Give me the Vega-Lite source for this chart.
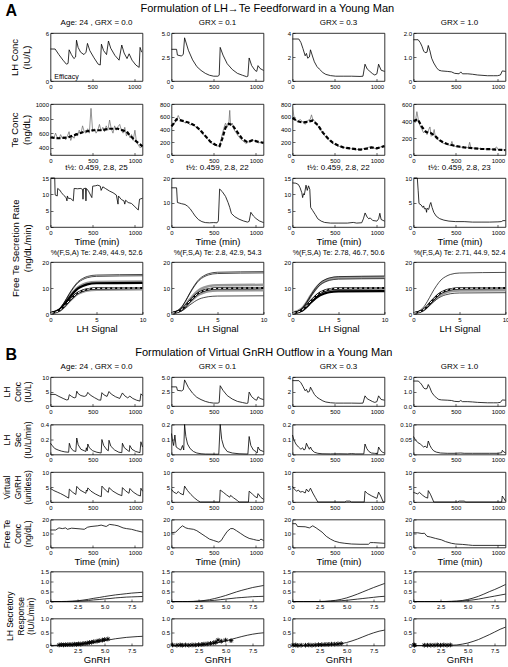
{
"$schema":"https://vega.github.io/schema/vega-lite/v6.json",
"padding":{"left":1.5,"right":0,"top":2,"bottom":0},
"config":{
 "font":"Liberation Sans",
 "view":{"stroke":"black","strokeWidth":0.8},
 "axis":{"domain":false,"grid":false,"ticks":true,"tickSize":-2.5,"tickColor":"black","tickWidth":0.6,"labelPadding":4.5,"labelFontSize":6,"labelColor":"black","labelFlush":false,"labelOverlap":false,"titleFontWeight":"normal","titleColor":"black","titleFontSize":9.5},
 "axisX":{"titleFontSize":9.5,"titlePadding":1},
 "title":{"fontSize":8,"fontWeight":"normal","offset":3,"color":"black"},
 "line":{"color":"black","strokeWidth":0.8}
},
"datasets":{
"a11":[{"t":0,"v":4},{"t":55,"v":4},{"t":100,"v":3.3},{"t":150,"v":2.6},{"t":190,"v":2.1},{"t":210,"v":2.2},{"t":223,"v":3.9},{"t":250,"v":3.3},{"t":280,"v":2.8},{"t":300,"v":3},{"t":311,"v":5.1},{"t":330,"v":4.2},{"t":360,"v":3.6},{"t":400,"v":3.3},{"t":425,"v":3.6},{"t":442,"v":4.7},{"t":470,"v":3.8},{"t":520,"v":2.9},{"t":570,"v":2.1},{"t":595,"v":2},{"t":609,"v":4.6},{"t":635,"v":3.8},{"t":670,"v":3.3},{"t":693,"v":5},{"t":720,"v":4.1},{"t":770,"v":3.2},{"t":820,"v":2.6},{"t":852,"v":4.5},{"t":880,"v":3.5},{"t":915,"v":2.8},{"t":940,"v":3.4},{"t":975,"v":2.6},{"t":1020,"v":2},{"t":1060,"v":1.7},{"t":1071,"v":4.2},{"t":1090,"v":3.6}],
"a12":[{"t":0,"v":3.3},{"t":60,"v":3.3},{"t":70,"v":2.7},{"t":120,"v":2.6},{"t":140,"v":2.8},{"t":155,"v":4.5},{"t":200,"v":3.2},{"t":250,"v":2.2},{"t":300,"v":1.5},{"t":350,"v":1.1},{"t":400,"v":0.8},{"t":450,"v":0.6},{"t":500,"v":0.5},{"t":550,"v":0.5},{"t":565,"v":0.6},{"t":577,"v":3.5},{"t":610,"v":2.7},{"t":660,"v":1.8},{"t":720,"v":1.2},{"t":780,"v":0.8},{"t":840,"v":0.6},{"t":890,"v":0.45},{"t":905,"v":0.5},{"t":920,"v":2.4},{"t":950,"v":1.6},{"t":990,"v":1.1},{"t":1010,"v":1},{"t":1025,"v":1.6},{"t":1050,"v":1.3},{"t":1090,"v":1.1}],
"a13":[{"t":0,"v":3.5},{"t":75,"v":3.5},{"t":100,"v":3.2},{"t":124,"v":2.7},{"t":150,"v":2.1},{"t":165,"v":2.3},{"t":180,"v":1.9},{"t":200,"v":2},{"t":213,"v":2.6},{"t":240,"v":2},{"t":259,"v":1.6},{"t":290,"v":1.2},{"t":317,"v":1},{"t":360,"v":0.7},{"t":395,"v":0.55},{"t":450,"v":0.45},{"t":511,"v":0.4},{"t":600,"v":0.4},{"t":700,"v":0.4},{"t":800,"v":0.38},{"t":835,"v":0.4},{"t":859,"v":1.4},{"t":885,"v":1},{"t":917,"v":0.8},{"t":950,"v":0.6},{"t":975,"v":0.5},{"t":1000,"v":0.6},{"t":1020,"v":1.4},{"t":1050,"v":0.9},{"t":1090,"v":0.8}],
"a14":[{"t":0,"v":1.72},{"t":55,"v":1.72},{"t":80,"v":1.6},{"t":100,"v":1.45},{"t":120,"v":1.25},{"t":137,"v":1.18},{"t":160,"v":1.2},{"t":175,"v":1.48},{"t":195,"v":1.25},{"t":215,"v":0.95},{"t":240,"v":0.75},{"t":274,"v":0.55},{"t":300,"v":0.45},{"t":332,"v":0.42},{"t":400,"v":0.4},{"t":450,"v":0.38},{"t":487,"v":0.32},{"t":540,"v":0.3},{"t":560,"v":0.38},{"t":580,"v":0.3},{"t":643,"v":0.3},{"t":700,"v":0.28},{"t":760,"v":0.25},{"t":800,"v":0.24},{"t":877,"v":0.22},{"t":950,"v":0.22},{"t":993,"v":0.22},{"t":1030,"v":0.25},{"t":1052,"v":0.42},{"t":1090,"v":0.4}],
"a21n":[{"t":0,"v":530},{"t":20,"v":560},{"t":40,"v":530},{"t":60,"v":600},{"t":80,"v":540},{"t":100,"v":520},{"t":120,"v":580},{"t":140,"v":530},{"t":160,"v":550},{"t":180,"v":510},{"t":200,"v":560},{"t":220,"v":620},{"t":240,"v":500},{"t":260,"v":560},{"t":280,"v":530},{"t":300,"v":600},{"t":320,"v":560},{"t":340,"v":640},{"t":360,"v":590},{"t":380,"v":700},{"t":400,"v":620},{"t":420,"v":600},{"t":440,"v":660},{"t":460,"v":600},{"t":480,"v":940},{"t":500,"v":620},{"t":520,"v":660},{"t":540,"v":600},{"t":560,"v":640},{"t":580,"v":720},{"t":600,"v":630},{"t":620,"v":680},{"t":640,"v":620},{"t":660,"v":700},{"t":680,"v":640},{"t":700,"v":780},{"t":720,"v":660},{"t":740,"v":600},{"t":760,"v":700},{"t":780,"v":640},{"t":800,"v":690},{"t":820,"v":720},{"t":840,"v":640},{"t":860,"v":600},{"t":880,"v":680},{"t":900,"v":560},{"t":920,"v":620},{"t":940,"v":540},{"t":960,"v":580},{"t":980,"v":500},{"t":1000,"v":640},{"t":1020,"v":470},{"t":1040,"v":440},{"t":1060,"v":400},{"t":1090,"v":420}],
"a21s":[{"t":0,"v":540},{"t":100,"v":530},{"t":200,"v":540},{"t":300,"v":580},{"t":400,"v":620},{"t":500,"v":640},{"t":600,"v":640},{"t":700,"v":660},{"t":800,"v":660},{"t":900,"v":620},{"t":1000,"v":500},{"t":1090,"v":420}],
"a22n":[{"t":0,"v":440},{"t":30,"v":480},{"t":60,"v":560},{"t":80,"v":620},{"t":100,"v":560},{"t":130,"v":540},{"t":160,"v":500},{"t":190,"v":520},{"t":220,"v":470},{"t":250,"v":490},{"t":280,"v":450},{"t":310,"v":420},{"t":340,"v":380},{"t":370,"v":330},{"t":400,"v":290},{"t":430,"v":250},{"t":460,"v":200},{"t":490,"v":170},{"t":520,"v":150},{"t":550,"v":140},{"t":575,"v":160},{"t":600,"v":320},{"t":620,"v":420},{"t":640,"v":500},{"t":660,"v":440},{"t":680,"v":520},{"t":690,"v":700},{"t":700,"v":460},{"t":720,"v":500},{"t":740,"v":400},{"t":760,"v":360},{"t":790,"v":300},{"t":820,"v":250},{"t":850,"v":220},{"t":880,"v":180},{"t":910,"v":200},{"t":940,"v":240},{"t":970,"v":230},{"t":1000,"v":220},{"t":1030,"v":190},{"t":1060,"v":200},{"t":1090,"v":190}],
"a22s":[{"t":0,"v":450},{"t":60,"v":560},{"t":120,"v":540},{"t":200,"v":510},{"t":280,"v":460},{"t":340,"v":390},{"t":400,"v":300},{"t":460,"v":210},{"t":520,"v":160},{"t":570,"v":140},{"t":600,"v":250},{"t":640,"v":430},{"t":680,"v":490},{"t":720,"v":470},{"t":780,"v":360},{"t":840,"v":250},{"t":900,"v":200},{"t":960,"v":230},{"t":1020,"v":210},{"t":1090,"v":190}],
"a23n":[{"t":0,"v":760},{"t":15,"v":620},{"t":30,"v":560},{"t":60,"v":520},{"t":90,"v":560},{"t":120,"v":520},{"t":150,"v":480},{"t":180,"v":540},{"t":210,"v":560},{"t":225,"v":630},{"t":240,"v":560},{"t":270,"v":520},{"t":300,"v":460},{"t":330,"v":400},{"t":360,"v":340},{"t":390,"v":290},{"t":420,"v":250},{"t":450,"v":210},{"t":480,"v":180},{"t":510,"v":160},{"t":540,"v":140},{"t":570,"v":130},{"t":600,"v":120},{"t":630,"v":110},{"t":660,"v":100},{"t":690,"v":100},{"t":720,"v":90},{"t":750,"v":80},{"t":780,"v":90},{"t":810,"v":80},{"t":840,"v":100},{"t":870,"v":110},{"t":900,"v":120},{"t":930,"v":130},{"t":960,"v":110},{"t":990,"v":100},{"t":1020,"v":110},{"t":1050,"v":130},{"t":1090,"v":150}],
"a23s":[{"t":0,"v":580},{"t":60,"v":530},{"t":120,"v":510},{"t":180,"v":520},{"t":240,"v":540},{"t":300,"v":470},{"t":360,"v":350},{"t":420,"v":260},{"t":480,"v":190},{"t":540,"v":150},{"t":600,"v":120},{"t":700,"v":100},{"t":800,"v":85},{"t":880,"v":100},{"t":940,"v":120},{"t":1000,"v":105},{"t":1090,"v":140}],
"a24n":[{"t":0,"v":400},{"t":20,"v":380},{"t":40,"v":510},{"t":60,"v":400},{"t":80,"v":340},{"t":100,"v":300},{"t":120,"v":260},{"t":140,"v":280},{"t":160,"v":240},{"t":180,"v":300},{"t":195,"v":330},{"t":210,"v":220},{"t":230,"v":240},{"t":245,"v":300},{"t":260,"v":200},{"t":290,"v":180},{"t":320,"v":160},{"t":350,"v":140},{"t":380,"v":130},{"t":410,"v":120},{"t":440,"v":110},{"t":455,"v":160},{"t":470,"v":110},{"t":500,"v":100},{"t":540,"v":95},{"t":580,"v":90},{"t":620,"v":90},{"t":650,"v":85},{"t":665,"v":150},{"t":680,"v":85},{"t":720,"v":80},{"t":760,"v":75},{"t":800,"v":75},{"t":850,"v":70},{"t":900,"v":70},{"t":950,"v":65},{"t":985,"v":95},{"t":1000,"v":65},{"t":1040,"v":60},{"t":1090,"v":60}],
"a24s":[{"t":0,"v":400},{"t":50,"v":420},{"t":100,"v":330},{"t":150,"v":270},{"t":200,"v":260},{"t":250,"v":230},{"t":300,"v":180},{"t":350,"v":150},{"t":400,"v":130},{"t":500,"v":105},{"t":600,"v":90},{"t":700,"v":80},{"t":800,"v":72},{"t":900,"v":68},{"t":1000,"v":62},{"t":1090,"v":58}],
"a31":[{"t":0,"v":15},{"t":50,"v":15},{"t":55,"v":9.8},{"t":80,"v":9.5},{"t":85,"v":11.8},{"t":110,"v":11.3},{"t":130,"v":10.5},{"t":160,"v":9.6},{"t":185,"v":9},{"t":195,"v":8},{"t":200,"v":9.5},{"t":210,"v":8.8},{"t":240,"v":8.7},{"t":270,"v":8},{"t":280,"v":11.8},{"t":320,"v":11.7},{"t":360,"v":11.8},{"t":380,"v":11.5},{"t":385,"v":8.5},{"t":390,"v":11.7},{"t":415,"v":11.9},{"t":420,"v":8},{"t":425,"v":11.8},{"t":450,"v":11},{"t":480,"v":9.5},{"t":490,"v":9},{"t":500,"v":12.5},{"t":530,"v":12.6},{"t":560,"v":12.8},{"t":590,"v":12.5},{"t":600,"v":11.2},{"t":620,"v":12.3},{"t":650,"v":11.8},{"t":700,"v":11},{"t":740,"v":10.5},{"t":780,"v":9.8},{"t":800,"v":7},{"t":805,"v":9.5},{"t":840,"v":8.4},{"t":870,"v":8},{"t":880,"v":7},{"t":890,"v":8.2},{"t":920,"v":7.5},{"t":960,"v":7.2},{"t":1000,"v":6.2},{"t":1040,"v":5.2},{"t":1055,"v":8.5},{"t":1090,"v":8.8}],
"a32":[{"t":0,"v":16},{"t":60,"v":16},{"t":70,"v":10},{"t":90,"v":9.8},{"t":120,"v":9.5},{"t":160,"v":9.2},{"t":190,"v":8.5},{"t":220,"v":7.5},{"t":250,"v":6},{"t":280,"v":4.5},{"t":320,"v":3},{"t":360,"v":2.2},{"t":400,"v":1.8},{"t":450,"v":1.7},{"t":500,"v":1.8},{"t":540,"v":1.7},{"t":555,"v":2.5},{"t":570,"v":15.5},{"t":600,"v":14.5},{"t":640,"v":12.5},{"t":670,"v":10},{"t":690,"v":8},{"t":710,"v":5.5},{"t":750,"v":4.2},{"t":800,"v":3.2},{"t":850,"v":2.5},{"t":900,"v":2},{"t":920,"v":2.3},{"t":940,"v":6},{"t":970,"v":4.5},{"t":1000,"v":3.5},{"t":1040,"v":2.5},{"t":1090,"v":1.8}],
"a33":[{"t":0,"v":13.5},{"t":40,"v":13.4},{"t":70,"v":13},{"t":90,"v":12},{"t":110,"v":10.5},{"t":120,"v":9},{"t":130,"v":10.2},{"t":140,"v":9.8},{"t":160,"v":12.8},{"t":175,"v":11.2},{"t":190,"v":12.6},{"t":205,"v":11.5},{"t":215,"v":6},{"t":240,"v":5},{"t":270,"v":3.8},{"t":300,"v":2.5},{"t":340,"v":1.8},{"t":380,"v":1.4},{"t":450,"v":1.2},{"t":550,"v":1.2},{"t":650,"v":1.2},{"t":720,"v":1.4},{"t":760,"v":1.2},{"t":820,"v":1.3},{"t":840,"v":2.5},{"t":860,"v":4.3},{"t":885,"v":3},{"t":905,"v":2.5},{"t":920,"v":2.8},{"t":950,"v":2},{"t":1000,"v":1.8},{"t":1020,"v":2.5},{"t":1035,"v":4.2},{"t":1050,"v":2.3},{"t":1090,"v":1.8}],
"a34":[{"t":0,"v":10},{"t":45,"v":10},{"t":55,"v":7.5},{"t":65,"v":4.8},{"t":90,"v":4.5},{"t":110,"v":4},{"t":120,"v":4.3},{"t":130,"v":3.7},{"t":145,"v":3.8},{"t":155,"v":3},{"t":160,"v":3.8},{"t":180,"v":3.6},{"t":195,"v":4.6},{"t":205,"v":5},{"t":220,"v":4},{"t":240,"v":3},{"t":270,"v":2.2},{"t":310,"v":1.7},{"t":360,"v":1.4},{"t":420,"v":1.2},{"t":500,"v":1.1},{"t":600,"v":1.1},{"t":700,"v":1},{"t":800,"v":1},{"t":900,"v":1},{"t":1000,"v":1.05},{"t":1040,"v":1.1},{"t":1060,"v":1.3},{"t":1090,"v":1.3}],
"a41":[{"x":0,"thin_a":0.46,"thin_b":0.44,"band_a":0.38,"bold_a":0.36,"bold_b":0.3,"mean":0.3,"band_b":0.29},{"x":1,"thin_a":2.13,"thin_b":2.06,"band_a":1.75,"bold_a":1.68,"bold_b":1.4,"mean":1.4,"band_b":1.33},{"x":1.5,"thin_a":4.56,"thin_b":4.41,"band_a":3.75,"bold_a":3.6,"bold_b":3,"mean":3,"band_b":2.85},{"x":2,"thin_a":7.6,"thin_b":7.35,"band_a":6.25,"bold_a":6,"bold_b":5,"mean":5,"band_b":4.75},{"x":2.5,"thin_a":10.34,"thin_b":10,"band_a":8.5,"bold_a":8.16,"bold_b":6.8,"mean":6.8,"band_b":6.46},{"x":3,"thin_a":12.46,"thin_b":12.05,"band_a":10.25,"bold_a":9.84,"bold_b":8.2,"mean":8.2,"band_b":7.79},{"x":3.5,"thin_a":13.68,"thin_b":13.23,"band_a":11.25,"bold_a":10.8,"bold_b":9,"mean":9,"band_b":8.55},{"x":4,"thin_a":14.44,"thin_b":13.97,"band_a":11.88,"bold_a":11.4,"bold_b":9.5,"mean":9.5,"band_b":9.03},{"x":5,"thin_a":14.97,"thin_b":14.48,"band_a":12.31,"bold_a":11.82,"bold_b":9.85,"mean":9.85,"band_b":9.36},{"x":10,"thin_a":15.2,"thin_b":14.7,"band_a":12.5,"bold_a":12,"bold_b":10,"mean":10,"band_b":9.5}],
"a42":[{"x":0,"thin_a":0.49,"thin_b":0.47,"band_a":0.34,"bold_a":0.3,"mean":0.3,"band_b":0.28,"thin_c":0.21},{"x":1,"thin_a":2.28,"thin_b":2.21,"band_a":1.57,"bold_a":1.4,"mean":1.4,"band_b":1.29,"thin_c":0.98},{"x":1.5,"thin_a":4.89,"thin_b":4.74,"band_a":3.36,"bold_a":3,"mean":3,"band_b":2.76,"thin_c":2.1},{"x":2,"thin_a":8.15,"thin_b":7.9,"band_a":5.6,"bold_a":5,"mean":5,"band_b":4.6,"thin_c":3.5},{"x":2.5,"thin_a":11.08,"thin_b":10.74,"band_a":7.62,"bold_a":6.8,"mean":6.8,"band_b":6.26,"thin_c":4.76},{"x":3,"thin_a":13.37,"thin_b":12.96,"band_a":9.18,"bold_a":8.2,"mean":8.2,"band_b":7.54,"thin_c":5.74},{"x":3.5,"thin_a":14.67,"thin_b":14.22,"band_a":10.08,"bold_a":9,"mean":9,"band_b":8.28,"thin_c":6.3},{"x":4,"thin_a":15.49,"thin_b":15.01,"band_a":10.64,"bold_a":9.5,"mean":9.5,"band_b":8.74,"thin_c":6.65},{"x":5,"thin_a":16.06,"thin_b":15.56,"band_a":11.03,"bold_a":9.85,"mean":9.85,"band_b":9.06,"thin_c":6.9},{"x":10,"thin_a":16.3,"thin_b":15.8,"band_a":11.2,"bold_a":10,"mean":10,"band_b":9.2,"thin_c":7}],
"a43":[{"x":0,"thin_a":0.44,"band_a":0.43,"thin_b":0.41,"bold_a":0.3,"mean":0.3,"band_b":0.28,"bold_b":0.26},{"x":1,"thin_a":2.04,"band_a":1.99,"thin_b":1.9,"bold_a":1.4,"mean":1.4,"band_b":1.32,"bold_b":1.23},{"x":1.5,"thin_a":4.38,"band_a":4.26,"thin_b":4.08,"bold_a":3,"mean":3,"band_b":2.82,"bold_b":2.64},{"x":2,"thin_a":7.3,"band_a":7.1,"thin_b":6.8,"bold_a":5,"mean":5,"band_b":4.7,"bold_b":4.4},{"x":2.5,"thin_a":9.93,"band_a":9.66,"thin_b":9.25,"bold_a":6.8,"mean":6.8,"band_b":6.39,"bold_b":5.98},{"x":3,"thin_a":11.97,"band_a":11.64,"thin_b":11.15,"bold_a":8.2,"mean":8.2,"band_b":7.71,"bold_b":7.22},{"x":3.5,"thin_a":13.14,"band_a":12.78,"thin_b":12.24,"bold_a":9,"mean":9,"band_b":8.46,"bold_b":7.92},{"x":4,"thin_a":13.87,"band_a":13.49,"thin_b":12.92,"bold_a":9.5,"mean":9.5,"band_b":8.93,"bold_b":8.36},{"x":5,"thin_a":14.38,"band_a":13.99,"thin_b":13.4,"bold_a":9.85,"mean":9.85,"band_b":9.26,"bold_b":8.67},{"x":10,"thin_a":14.6,"band_a":14.2,"thin_b":13.6,"bold_a":10,"mean":10,"band_b":9.4,"bold_b":8.8}],
"a44":[{"x":0,"thin_a":0.48,"bold_a":0.3,"mean":0.3,"band_a":0.28,"thin_b":0.25},{"x":1,"thin_a":2.24,"bold_a":1.4,"mean":1.4,"band_a":1.29,"thin_b":1.15},{"x":1.5,"thin_a":4.8,"bold_a":3,"mean":3,"band_a":2.76,"thin_b":2.46},{"x":2,"thin_a":8,"bold_a":5,"mean":5,"band_a":4.6,"thin_b":4.1},{"x":2.5,"thin_a":10.88,"bold_a":6.8,"mean":6.8,"band_a":6.26,"thin_b":5.58},{"x":3,"thin_a":13.12,"bold_a":8.2,"mean":8.2,"band_a":7.54,"thin_b":6.72},{"x":3.5,"thin_a":14.4,"bold_a":9,"mean":9,"band_a":8.28,"thin_b":7.38},{"x":4,"thin_a":15.2,"bold_a":9.5,"mean":9.5,"band_a":8.74,"thin_b":7.79},{"x":5,"thin_a":15.76,"bold_a":9.85,"mean":9.85,"band_a":9.06,"thin_b":8.08},{"x":10,"thin_a":16,"bold_a":10,"mean":10,"band_a":9.2,"thin_b":8.2}],
"b21":[{"t":0,"v":0.15},{"t":20,"v":0.12},{"t":50,"v":0.08},{"t":90,"v":0.06},{"t":130,"v":0.045},{"t":170,"v":0.035},{"t":215,"v":0.03},{"t":223,"v":0.15},{"t":240,"v":0.09},{"t":270,"v":0.05},{"t":300,"v":0.04},{"t":311,"v":0.22},{"t":328,"v":0.13},{"t":360,"v":0.07},{"t":400,"v":0.05},{"t":418,"v":0.04},{"t":425,"v":0.09},{"t":435,"v":0.05},{"t":442,"v":0.14},{"t":460,"v":0.09},{"t":500,"v":0.05},{"t":550,"v":0.03},{"t":600,"v":0.02},{"t":609,"v":0.2},{"t":630,"v":0.12},{"t":670,"v":0.06},{"t":685,"v":0.05},{"t":693,"v":0.19},{"t":715,"v":0.11},{"t":760,"v":0.06},{"t":810,"v":0.03},{"t":845,"v":0.025},{"t":852,"v":0.15},{"t":875,"v":0.09},{"t":920,"v":0.05},{"t":934,"v":0.04},{"t":940,"v":0.12},{"t":965,"v":0.07},{"t":1010,"v":0.04},{"t":1060,"v":0.025},{"t":1071,"v":0.17},{"t":1090,"v":0.1}],
"b22":[{"t":0,"v":0.14},{"t":10,"v":0.1},{"t":25,"v":0.06},{"t":40,"v":0.13},{"t":55,"v":0.05},{"t":80,"v":0.04},{"t":110,"v":0.03},{"t":130,"v":0.06},{"t":145,"v":0.03},{"t":155,"v":0.2},{"t":170,"v":0.12},{"t":190,"v":0.07},{"t":220,"v":0.04},{"t":260,"v":0.02},{"t":300,"v":0.01},{"t":350,"v":0.005},{"t":400,"v":0.003},{"t":560,"v":0.002},{"t":577,"v":0.2},{"t":595,"v":0.1},{"t":620,"v":0.05},{"t":660,"v":0.02},{"t":720,"v":0.01},{"t":800,"v":0.005},{"t":905,"v":0.003},{"t":920,"v":0.12},{"t":940,"v":0.06},{"t":970,"v":0.03},{"t":1000,"v":0.02},{"t":1015,"v":0.01},{"t":1025,"v":0.05},{"t":1045,"v":0.03},{"t":1090,"v":0.02}],
"b23":[{"t":0,"v":0.13},{"t":15,"v":0.1},{"t":40,"v":0.07},{"t":70,"v":0.05},{"t":100,"v":0.035},{"t":120,"v":0.045},{"t":135,"v":0.03},{"t":150,"v":0.035},{"t":165,"v":0.075},{"t":185,"v":0.05},{"t":200,"v":0.035},{"t":213,"v":0.05},{"t":230,"v":0.03},{"t":260,"v":0.015},{"t":300,"v":0.008},{"t":350,"v":0.005},{"t":450,"v":0.004},{"t":550,"v":0.005},{"t":650,"v":0.004},{"t":700,"v":0.006},{"t":750,"v":0.004},{"t":845,"v":0.004},{"t":859,"v":0.07},{"t":880,"v":0.04},{"t":905,"v":0.02},{"t":935,"v":0.01},{"t":970,"v":0.008},{"t":1008,"v":0.006},{"t":1020,"v":0.05},{"t":1040,"v":0.03},{"t":1065,"v":0.015},{"t":1090,"v":0.01}],
"b24":[{"t":0,"v":0.06},{"t":20,"v":0.05},{"t":50,"v":0.04},{"t":80,"v":0.035},{"t":100,"v":0.03},{"t":120,"v":0.025},{"t":140,"v":0.028},{"t":160,"v":0.022},{"t":175,"v":0.045},{"t":195,"v":0.03},{"t":215,"v":0.02},{"t":240,"v":0.012},{"t":270,"v":0.008},{"t":320,"v":0.005},{"t":400,"v":0.004},{"t":480,"v":0.004},{"t":560,"v":0.005},{"t":600,"v":0.004},{"t":700,"v":0.004},{"t":800,"v":0.004},{"t":900,"v":0.004},{"t":1000,"v":0.004},{"t":1045,"v":0.006},{"t":1052,"v":0.014},{"t":1070,"v":0.008},{"t":1090,"v":0.006}],
"b31":[{"t":0,"v":4.5},{"t":40,"v":3.8},{"t":80,"v":3.3},{"t":120,"v":2.8},{"t":160,"v":2.2},{"t":215,"v":1.3},{"t":223,"v":4.3},{"t":260,"v":3.3},{"t":300,"v":2.5},{"t":311,"v":5.2},{"t":350,"v":4},{"t":400,"v":3.2},{"t":420,"v":2.9},{"t":425,"v":4},{"t":435,"v":3.6},{"t":442,"v":4.7},{"t":480,"v":3.6},{"t":530,"v":2.7},{"t":580,"v":2},{"t":602,"v":1.8},{"t":609,"v":5.3},{"t":650,"v":4},{"t":685,"v":3.2},{"t":693,"v":4.8},{"t":740,"v":3.6},{"t":800,"v":2.6},{"t":845,"v":2.1},{"t":852,"v":4.8},{"t":890,"v":3.7},{"t":930,"v":2.9},{"t":940,"v":4.5},{"t":980,"v":3.3},{"t":1030,"v":2.4},{"t":1065,"v":2},{"t":1071,"v":4.6},{"t":1090,"v":3.6}],
"b32":[{"t":0,"v":4.2},{"t":25,"v":3.3},{"t":60,"v":2.8},{"t":80,"v":3.5},{"t":100,"v":2.9},{"t":140,"v":2.4},{"t":155,"v":5.3},{"t":190,"v":3.8},{"t":230,"v":2.5},{"t":270,"v":1.4},{"t":310,"v":0.5},{"t":340,"v":0},{"t":570,"v":0},{"t":577,"v":4},{"t":615,"v":3.2},{"t":650,"v":2.4},{"t":690,"v":1.6},{"t":700,"v":2.2},{"t":735,"v":1.4},{"t":780,"v":0.5},{"t":800,"v":0},{"t":912,"v":0},{"t":920,"v":3.6},{"t":960,"v":2.6},{"t":990,"v":1.8},{"t":1015,"v":1.4},{"t":1025,"v":2.8},{"t":1060,"v":1.5},{"t":1090,"v":0.9}],
"b33":[{"t":0,"v":5.2},{"t":20,"v":4.3},{"t":50,"v":3.6},{"t":70,"v":4},{"t":90,"v":3.3},{"t":120,"v":3.5},{"t":150,"v":3},{"t":165,"v":4.3},{"t":190,"v":3.4},{"t":213,"v":4.6},{"t":240,"v":3},{"t":270,"v":1.5},{"t":300,"v":0},{"t":620,"v":0},{"t":640,"v":0.3},{"t":680,"v":0.3},{"t":700,"v":0},{"t":850,"v":0},{"t":859,"v":3.6},{"t":890,"v":2.8},{"t":940,"v":2},{"t":1000,"v":1.2},{"t":1020,"v":3.3},{"t":1045,"v":2},{"t":1075,"v":0},{"t":1090,"v":0}],
"b34":[{"t":0,"v":3.2},{"t":20,"v":3},{"t":50,"v":2.7},{"t":70,"v":3.2},{"t":90,"v":2.7},{"t":110,"v":2.2},{"t":140,"v":1.6},{"t":168,"v":1.3},{"t":175,"v":3.8},{"t":200,"v":2.6},{"t":225,"v":1},{"t":240,"v":0},{"t":520,"v":0},{"t":540,"v":0.3},{"t":600,"v":0.3},{"t":620,"v":0},{"t":1045,"v":0},{"t":1052,"v":2},{"t":1075,"v":1},{"t":1090,"v":0.3}],
"b41":[{"t":0,"v":12.5},{"t":60,"v":12.5},{"t":100,"v":14},{"t":140,"v":13.5},{"t":180,"v":14},{"t":200,"v":13},{"t":250,"v":13.8},{"t":350,"v":13.3},{"t":400,"v":13},{"t":440,"v":14.5},{"t":480,"v":15},{"t":560,"v":15.5},{"t":600,"v":16},{"t":660,"v":15},{"t":700,"v":16.5},{"t":760,"v":16},{"t":800,"v":15.5},{"t":860,"v":14},{"t":900,"v":13.5},{"t":960,"v":13},{"t":1020,"v":12},{"t":1090,"v":11}],
"b42":[{"t":0,"v":10.5},{"t":50,"v":11},{"t":100,"v":14},{"t":130,"v":15.5},{"t":170,"v":14},{"t":200,"v":13.5},{"t":260,"v":13},{"t":300,"v":12},{"t":350,"v":10},{"t":400,"v":8},{"t":450,"v":6},{"t":500,"v":5},{"t":540,"v":4.2},{"t":560,"v":3.8},{"t":590,"v":5},{"t":620,"v":8},{"t":660,"v":11.5},{"t":700,"v":13.5},{"t":730,"v":13.5},{"t":770,"v":12},{"t":820,"v":10},{"t":870,"v":8},{"t":920,"v":6.5},{"t":970,"v":5.8},{"t":1010,"v":5.2},{"t":1040,"v":5},{"t":1060,"v":6},{"t":1090,"v":5}],
"b43":[{"t":0,"v":17},{"t":40,"v":17},{"t":60,"v":15},{"t":150,"v":14.8},{"t":200,"v":14},{"t":240,"v":15.5},{"t":280,"v":14},{"t":350,"v":11},{"t":400,"v":8},{"t":450,"v":6},{"t":500,"v":4.5},{"t":560,"v":3.5},{"t":620,"v":3},{"t":700,"v":2.5},{"t":800,"v":2.3},{"t":900,"v":2.3},{"t":920,"v":3.5},{"t":960,"v":3.5},{"t":1090,"v":3}],
"b44":[{"t":0,"v":10.5},{"t":50,"v":10.5},{"t":100,"v":10},{"t":130,"v":10.2},{"t":160,"v":8},{"t":200,"v":7.5},{"t":260,"v":6.5},{"t":330,"v":5.5},{"t":380,"v":4.2},{"t":450,"v":3},{"t":500,"v":2.5},{"t":580,"v":2.2},{"t":650,"v":1.8},{"t":700,"v":1.5},{"t":1090,"v":1.5}],
"b51":[{"x":0,"u":0,"l":0},{"x":1,"u":0,"l":0},{"x":1.5,"u":0.005,"l":0},{"x":2,"u":0.015,"l":0.005},{"x":2.5,"u":0.035,"l":0.015},{"x":3,"u":0.07,"l":0.03},{"x":3.5,"u":0.11,"l":0.05},{"x":4,"u":0.16,"l":0.08},{"x":4.5,"u":0.2,"l":0.1},{"x":5,"u":0.25,"l":0.13},{"x":5.5,"u":0.29,"l":0.15},{"x":6,"u":0.33,"l":0.18},{"x":6.5,"u":0.36,"l":0.2},{"x":7,"u":0.39,"l":0.22},{"x":7.5,"u":0.42,"l":0.23},{"x":8,"u":0.44,"l":0.24},{"x":8.5,"u":0.46,"l":0.25}],
"b52":[{"x":0,"u":0,"l":0},{"x":1,"u":0,"l":0},{"x":1.5,"u":0,"l":0},{"x":2,"u":0.005,"l":0},{"x":2.5,"u":0.02,"l":0.01},{"x":3,"u":0.05,"l":0.02},{"x":3.5,"u":0.09,"l":0.04},{"x":4,"u":0.15,"l":0.06},{"x":4.5,"u":0.22,"l":0.09},{"x":5,"u":0.3,"l":0.12},{"x":5.5,"u":0.39,"l":0.15},{"x":6,"u":0.48,"l":0.18},{"x":6.5,"u":0.56,"l":0.2},{"x":7,"u":0.63,"l":0.22},{"x":7.5,"u":0.7,"l":0.24},{"x":8,"u":0.75,"l":0.25},{"x":8.5,"u":0.8,"l":0.26}],
"b53":[{"x":0,"u":0,"l":0},{"x":1,"u":0,"l":0},{"x":2,"u":0,"l":0},{"x":2.5,"u":0,"l":0},{"x":3,"u":0.01,"l":0},{"x":3.5,"u":0.03,"l":0.01},{"x":4,"u":0.06,"l":0.02},{"x":4.5,"u":0.11,"l":0.04},{"x":5,"u":0.18,"l":0.06},{"x":5.5,"u":0.27,"l":0.09},{"x":6,"u":0.37,"l":0.12},{"x":6.5,"u":0.48,"l":0.15},{"x":7,"u":0.59,"l":0.18},{"x":7.5,"u":0.7,"l":0.21},{"x":8,"u":0.8,"l":0.24},{"x":8.5,"u":0.9,"l":0.26}],
"b54":[{"x":0,"u":0,"l":0},{"x":1,"u":0,"l":0},{"x":2,"u":0,"l":0},{"x":3,"u":0,"l":0},{"x":3.5,"u":0.01,"l":0},{"x":4,"u":0.02,"l":0.01},{"x":4.5,"u":0.05,"l":0.02},{"x":5,"u":0.1,"l":0.05},{"x":5.5,"u":0.17,"l":0.08},{"x":6,"u":0.26,"l":0.12},{"x":6.5,"u":0.37,"l":0.17},{"x":7,"u":0.49,"l":0.22},{"x":7.5,"u":0.6,"l":0.27},{"x":8,"u":0.72,"l":0.32},{"x":8.5,"u":0.85,"l":0.37}],
"b61c":[{"x":0,"y":0},{"x":1,"y":0.01},{"x":2,"y":0.03},{"x":3,"y":0.06},{"x":4,"y":0.11},{"x":5,"y":0.18},{"x":6,"y":0.25},{"x":7,"y":0.3},{"x":8,"y":0.33},{"x":8.5,"y":0.34}],
"b62c":[{"x":0,"y":0},{"x":1,"y":0},{"x":2,"y":0.01},{"x":3,"y":0.03},{"x":4,"y":0.08},{"x":5,"y":0.17},{"x":6,"y":0.28},{"x":7,"y":0.38},{"x":8,"y":0.45},{"x":8.5,"y":0.47}],
"b63c":[{"x":0,"y":0},{"x":2,"y":0},{"x":3,"y":0.01},{"x":4,"y":0.04},{"x":4.5,"y":0.07},{"x":5,"y":0.11},{"x":5.5,"y":0.17},{"x":6,"y":0.24},{"x":6.5,"y":0.32},{"x":7,"y":0.4},{"x":7.5,"y":0.47},{"x":8,"y":0.53},{"x":8.5,"y":0.57}],
"b64c":[{"x":0,"y":0},{"x":3,"y":0},{"x":3.5,"y":0.01},{"x":4,"y":0.02},{"x":4.5,"y":0.05},{"x":5,"y":0.09},{"x":5.5,"y":0.15},{"x":6,"y":0.22},{"x":6.5,"y":0.31},{"x":7,"y":0.4},{"x":7.5,"y":0.5},{"x":8,"y":0.6},{"x":8.5,"y":0.68}],
"b61p":[{"x":0.8,"y":0.02},{"x":1,"y":0.03},{"x":1.2,"y":0.02},{"x":1.4,"y":0.03},{"x":1.6,"y":0.03},{"x":1.8,"y":0.04},{"x":2,"y":0.03},{"x":2.2,"y":0.05},{"x":2.4,"y":0.04},{"x":2.6,"y":0.06},{"x":2.8,"y":0.05},{"x":3,"y":0.07},{"x":3.2,"y":0.08},{"x":3.4,"y":0.09},{"x":3.6,"y":0.11},{"x":3.8,"y":0.12},{"x":4,"y":0.14},{"x":4.3,"y":0.16},{"x":4.5,"y":0.18},{"x":4.8,"y":0.2},{"x":5,"y":0.22},{"x":5.3,"y":0.24}],
"b62p":[{"x":0.1,"y":0.02},{"x":0.5,"y":0.01},{"x":0.8,"y":0.02},{"x":1,"y":0.01},{"x":1.3,"y":0.02},{"x":1.6,"y":0.01},{"x":1.9,"y":0.02},{"x":2.2,"y":0.02},{"x":2.5,"y":0.03},{"x":2.8,"y":0.04},{"x":3,"y":0.05},{"x":3.3,"y":0.06},{"x":3.6,"y":0.08},{"x":3.9,"y":0.1},{"x":4.1,"y":0.12},{"x":4.3,"y":0.2},{"x":4.6,"y":0.16},{"x":5,"y":0.2},{"x":5.5,"y":0.18}],
"b63p":[{"x":0.05,"y":0.01},{"x":0.3,"y":0.02},{"x":0.5,"y":0},{"x":0.8,"y":0.01},{"x":1.2,"y":0.01},{"x":1.5,"y":0.02},{"x":1.8,"y":0.01},{"x":2.1,"y":0.02},{"x":2.4,"y":0.03},{"x":2.7,"y":0.03},{"x":3,"y":0.04},{"x":3.3,"y":0.04},{"x":3.6,"y":0.05},{"x":3.9,"y":0.05},{"x":4.2,"y":0.06},{"x":4.5,"y":0.07}],
"b64p":[{"x":0.05,"y":0.02},{"x":0.1,"y":0.01},{"x":1,"y":0.01},{"x":1.3,"y":0.01},{"x":1.6,"y":0.01},{"x":1.9,"y":0.01},{"x":2.2,"y":0.02},{"x":2.5,"y":0.01},{"x":2.8,"y":0.02},{"x":3.1,"y":0.01},{"x":3.4,"y":0.02}]
},
"spacing":13,
"vconcat":[
{"title":{"text":"A","orient":"left","anchor":"end","angle":0,"align":"left","baseline":"top","fontSize":16,"fontWeight":"bold","offset":-8},
 "spacing":-1,
 "vconcat":[
  {"spacing":10,"vconcat":[
   {"title":{"text":"Formulation of LH→Te Feedforward in a Young Man","fontSize":11,"offset":5,"anchor":"middle","dx":9},"bounds":"flush","spacing":29,"hconcat":[
    {"width":92,"height":48,"title":"Age: 24 , GRX = 0.0","layer":[
      {"data":{"name":"a11"},"mark":"line","encoding":{"x":{"field":"t","type":"quantitative","scale":{"domain":[0,1090]},"axis":{"values":[0,500,1000],"format":"d","title":null}},"y":{"field":"v","type":"quantitative","scale":{"domain":[0,6]},"axis":{"values":[0,2,4,6],"title":["LH Conc","(IU/L)"],"titleX":-31}}}},
      {"data":{"values":[{}]},"mark":{"type":"text","align":"left","baseline":"middle","fontSize":7},"encoding":{"x":{"datum":45},"y":{"datum":0.5},"text":{"value":"Efficacy"}}}]},
    {"width":92,"height":48,"title":"GRX = 0.1","data":{"name":"a12"},"mark":"line","encoding":{"x":{"field":"t","type":"quantitative","scale":{"domain":[0,1090]},"axis":{"values":[0,500,1000],"format":"d","title":null}},"y":{"field":"v","type":"quantitative","scale":{"domain":[0,5]},"axis":{"values":[0,2.5,5],"labelExpr":"datum.value == 0 ? '0' : format(datum.value, '.1f')","title":null}}}},
    {"width":92,"height":48,"title":"GRX = 0.3","data":{"name":"a13"},"mark":"line","encoding":{"x":{"field":"t","type":"quantitative","scale":{"domain":[0,1090]},"axis":{"values":[0,500,1000],"format":"d","title":null}},"y":{"field":"v","type":"quantitative","scale":{"domain":[0,4]},"axis":{"values":[0,2,4],"title":null}}}},
    {"width":92,"height":48,"title":"GRX = 1.0","data":{"name":"a14"},"mark":"line","encoding":{"x":{"field":"t","type":"quantitative","scale":{"domain":[0,1090]},"axis":{"values":[0,500,1000],"format":"d","title":null}},"y":{"field":"v","type":"quantitative","scale":{"domain":[0,2]},"axis":{"values":[0,1,2],"labelExpr":"datum.value == 0 ? '0' : format(datum.value, '.1f')","title":null}}}}
   ]},
   {"bounds":"flush","spacing":29,"hconcat":[
    {"width":92,"height":51,"layer":[{"data":{"name":"a21n"},"mark":{"type":"line","stroke":"#666","strokeWidth":0.7}},{"data":{"name":"a21s"},"mark":{"type":"line","stroke":"black","strokeWidth":2.2,"strokeDash":[4,2]}}],"encoding":{"x":{"field":"t","type":"quantitative","scale":{"domain":[0,1090]},"axis":{"values":[0,500,1000],"format":"d","title":null}},"y":{"field":"v","type":"quantitative","scale":{"domain":[300,1000]},"axis":{"values":[400,600,800,1000],"format":"d","title":["Te Conc","(ng/dL)"],"titleX":-31}}}},
    {"width":92,"height":51,"layer":[{"data":{"name":"a22n"},"mark":{"type":"line","stroke":"#666","strokeWidth":0.7}},{"data":{"name":"a22s"},"mark":{"type":"line","stroke":"black","strokeWidth":2.2,"strokeDash":[4,2]}}],"encoding":{"x":{"field":"t","type":"quantitative","scale":{"domain":[0,1090]},"axis":{"values":[0,500,1000],"format":"d","title":null}},"y":{"field":"v","type":"quantitative","scale":{"domain":[0,800]},"axis":{"values":[0,200,400,600,800],"format":"d","title":null}}}},
    {"width":92,"height":51,"layer":[{"data":{"name":"a23n"},"mark":{"type":"line","stroke":"#666","strokeWidth":0.7}},{"data":{"name":"a23s"},"mark":{"type":"line","stroke":"black","strokeWidth":2.2,"strokeDash":[4,2]}}],"encoding":{"x":{"field":"t","type":"quantitative","scale":{"domain":[0,1090]},"axis":{"values":[0,500,1000],"format":"d","title":null}},"y":{"field":"v","type":"quantitative","scale":{"domain":[0,800]},"axis":{"values":[0,200,400,600,800],"format":"d","title":null}}}},
    {"width":92,"height":51,"layer":[{"data":{"name":"a24n"},"mark":{"type":"line","stroke":"#666","strokeWidth":0.7}},{"data":{"name":"a24s"},"mark":{"type":"line","stroke":"black","strokeWidth":2.2,"strokeDash":[4,2]}}],"encoding":{"x":{"field":"t","type":"quantitative","scale":{"domain":[0,1090]},"axis":{"values":[0,500,1000],"format":"d","title":null}},"y":{"field":"v","type":"quantitative","scale":{"domain":[0,600]},"axis":{"values":[0,200,400,600],"format":"d","title":null}}}}
   ]}
  ]},
  {"spacing":2,"title":{"text":["Free Te Secretion Rate","(ng/dL/min)"],"orient":"left","anchor":"middle","fontSize":9.5,"offset":9},"vconcat":[
   {"bounds":"flush","spacing":29,"hconcat":[
    {"width":92,"height":49,"title":"t½: 0.459, 2.8, 25","data":{"name":"a31"},"mark":"line","encoding":{"x":{"field":"t","type":"quantitative","scale":{"domain":[0,1090]},"axis":{"values":[0,500,1000],"format":"d","title":"Time (min)"}},"y":{"field":"v","type":"quantitative","scale":{"domain":[0,15]},"axis":{"values":[0,5,10,15],"title":null}}}},
    {"width":92,"height":49,"title":"t½: 0.459, 2.8, 22","data":{"name":"a32"},"mark":"line","encoding":{"x":{"field":"t","type":"quantitative","scale":{"domain":[0,1090]},"axis":{"values":[0,500,1000],"format":"d","title":"Time (min)"}},"y":{"field":"v","type":"quantitative","scale":{"domain":[0,20]},"axis":{"values":[0,10,20],"title":null}}}},
    {"width":92,"height":49,"title":"t½: 0.459, 2.8, 22","data":{"name":"a33"},"mark":"line","encoding":{"x":{"field":"t","type":"quantitative","scale":{"domain":[0,1090]},"axis":{"values":[0,500,1000],"format":"d","title":"Time (min)"}},"y":{"field":"v","type":"quantitative","scale":{"domain":[0,15]},"axis":{"values":[0,5,10,15],"title":null}}}},
    {"width":92,"height":49,"title":"t½: 0.459, 2.8, 23","data":{"name":"a34"},"mark":"line","encoding":{"x":{"field":"t","type":"quantitative","scale":{"domain":[0,1090]},"axis":{"values":[0,500,1000],"format":"d","title":"Time (min)"}},"y":{"field":"v","type":"quantitative","scale":{"domain":[0,10]},"axis":{"values":[0,5,10],"title":null}}}}
   ]},
   {"bounds":"flush","spacing":29,"hconcat":[
    {"width":92,"height":52,"title":{"text":"%(F,S,A) Te: 2.49, 44.9, 52.6","fontSize":7.2},"data":{"name":"a41"},"transform":[{"fold":["thin_a","thin_b","band_a","bold_a","bold_b","mean","band_b"],"as":["k","y"]}],"encoding":{"x":{"field":"x","type":"quantitative","scale":{"domain":[0,10]},"axis":{"values":[0,5,10],"title":"LH Signal"}},"y":{"field":"y","type":"quantitative","scale":{"domain":[0,20]},"axis":{"values":[0,10,20],"title":null}},"detail":{"field":"k"}},"layer":[
      {"transform":[{"filter":"indexof(datum.k,'band')==0"}],"mark":{"type":"line","interpolate":"monotone","stroke":"#999","strokeWidth":2.6}},
      {"transform":[{"filter":"indexof(datum.k,'bold')==0"}],"mark":{"type":"line","interpolate":"monotone","stroke":"black","strokeWidth":2.2}},
      {"transform":[{"filter":"indexof(datum.k,'thin')==0"}],"mark":{"type":"line","interpolate":"monotone","stroke":"black","strokeWidth":0.7}},
      {"transform":[{"filter":"datum.k=='mean'"}],"mark":{"type":"line","interpolate":"monotone","stroke":"white","strokeWidth":1,"strokeDash":[3,2]}}]},
    {"width":92,"height":52,"title":{"text":"%(F,S,A) Te: 2.8, 42.9, 54.3","fontSize":7.2},"data":{"name":"a42"},"transform":[{"fold":["thin_a","thin_b","band_a","bold_a","mean","band_b","thin_c"],"as":["k","y"]}],"encoding":{"x":{"field":"x","type":"quantitative","scale":{"domain":[0,10]},"axis":{"values":[0,5,10],"title":"LH Signal"}},"y":{"field":"y","type":"quantitative","scale":{"domain":[0,20]},"axis":{"values":[0,10,20],"title":null}},"detail":{"field":"k"}},"layer":[
      {"transform":[{"filter":"indexof(datum.k,'band')==0"}],"mark":{"type":"line","interpolate":"monotone","stroke":"#999","strokeWidth":2.6}},
      {"transform":[{"filter":"indexof(datum.k,'bold')==0"}],"mark":{"type":"line","interpolate":"monotone","stroke":"black","strokeWidth":2.2}},
      {"transform":[{"filter":"indexof(datum.k,'thin')==0"}],"mark":{"type":"line","interpolate":"monotone","stroke":"black","strokeWidth":0.7}},
      {"transform":[{"filter":"datum.k=='mean'"}],"mark":{"type":"line","interpolate":"monotone","stroke":"white","strokeWidth":1,"strokeDash":[3,2]}}]},
    {"width":92,"height":52,"title":{"text":"%(F,S,A) Te: 2.78, 46.7, 50.6","fontSize":7.2},"data":{"name":"a43"},"transform":[{"fold":["thin_a","band_a","thin_b","bold_a","mean","band_b","bold_b"],"as":["k","y"]}],"encoding":{"x":{"field":"x","type":"quantitative","scale":{"domain":[0,10]},"axis":{"values":[0,5,10],"title":"LH Signal"}},"y":{"field":"y","type":"quantitative","scale":{"domain":[0,20]},"axis":{"values":[0,10,20],"title":null}},"detail":{"field":"k"}},"layer":[
      {"transform":[{"filter":"indexof(datum.k,'band')==0"}],"mark":{"type":"line","interpolate":"monotone","stroke":"#999","strokeWidth":2.6}},
      {"transform":[{"filter":"indexof(datum.k,'bold')==0"}],"mark":{"type":"line","interpolate":"monotone","stroke":"black","strokeWidth":2.2}},
      {"transform":[{"filter":"indexof(datum.k,'thin')==0"}],"mark":{"type":"line","interpolate":"monotone","stroke":"black","strokeWidth":0.7}},
      {"transform":[{"filter":"datum.k=='mean'"}],"mark":{"type":"line","interpolate":"monotone","stroke":"white","strokeWidth":1,"strokeDash":[3,2]}}]},
    {"width":92,"height":52,"title":{"text":"%(F,S,A) Te: 2.71, 44.9, 52.4","fontSize":7.2},"data":{"name":"a44"},"transform":[{"fold":["thin_a","bold_a","mean","band_a","thin_b"],"as":["k","y"]}],"encoding":{"x":{"field":"x","type":"quantitative","scale":{"domain":[0,10]},"axis":{"values":[0,5,10],"title":"LH Signal"}},"y":{"field":"y","type":"quantitative","scale":{"domain":[0,20]},"axis":{"values":[0,10,20],"title":null}},"detail":{"field":"k"}},"layer":[
      {"transform":[{"filter":"indexof(datum.k,'band')==0"}],"mark":{"type":"line","interpolate":"monotone","stroke":"#999","strokeWidth":2.6}},
      {"transform":[{"filter":"indexof(datum.k,'bold')==0"}],"mark":{"type":"line","interpolate":"monotone","stroke":"black","strokeWidth":2.2}},
      {"transform":[{"filter":"indexof(datum.k,'thin')==0"}],"mark":{"type":"line","interpolate":"monotone","stroke":"black","strokeWidth":0.7}},
      {"transform":[{"filter":"datum.k=='mean'"}],"mark":{"type":"line","interpolate":"monotone","stroke":"white","strokeWidth":1,"strokeDash":[3,2]}}]}
   ]}
  ]}
 ]},
{"title":{"text":"B","orient":"left","anchor":"end","angle":0,"align":"left","baseline":"top","fontSize":16,"fontWeight":"bold","offset":-15},
 "spacing":0.5,
 "vconcat":[
  {"spacing":4.5,"vconcat":[
   {"title":{"text":"Formulation of Virtual GnRH Outflow in a Young Man","fontSize":11,"offset":5,"anchor":"middle","dx":9},"bounds":"flush","spacing":29,"hconcat":[
    {"width":92,"height":29,"title":"Age: 24 , GRX = 0.0","data":{"name":"a11"},"mark":"line","encoding":{"x":{"field":"t","type":"quantitative","scale":{"domain":[0,1090]},"axis":{"values":[0,500,1000],"format":"d","title":null}},"y":{"field":"v","type":"quantitative","scale":{"domain":[0,10]},"axis":{"values":[0,5,10],"title":["LH","Conc","(IU/L)"],"titleX":-39,"titleFontSize":8.5}}}},
    {"width":92,"height":29,"title":"GRX = 0.1","data":{"name":"a12"},"mark":"line","encoding":{"x":{"field":"t","type":"quantitative","scale":{"domain":[0,1090]},"axis":{"values":[0,500,1000],"format":"d","title":null}},"y":{"field":"v","type":"quantitative","scale":{"domain":[0,5]},"axis":{"values":[0,2.5,5],"labelExpr":"datum.value == 0 ? '0' : format(datum.value, '.1f')","title":null}}}},
    {"width":92,"height":29,"title":"GRX = 0.3","data":{"name":"a13"},"mark":"line","encoding":{"x":{"field":"t","type":"quantitative","scale":{"domain":[0,1090]},"axis":{"values":[0,500,1000],"format":"d","title":null}},"y":{"field":"v","type":"quantitative","scale":{"domain":[0,4]},"axis":{"values":[0,2,4],"title":null}}}},
    {"width":92,"height":29,"title":"GRX = 1.0","data":{"name":"a14"},"mark":"line","encoding":{"x":{"field":"t","type":"quantitative","scale":{"domain":[0,1090]},"axis":{"values":[0,500,1000],"format":"d","title":null}},"y":{"field":"v","type":"quantitative","scale":{"domain":[0,2]},"axis":{"values":[0,1,2],"title":null}}}}
   ]},
   {"bounds":"flush","spacing":29,"hconcat":[
    {"width":92,"height":30,"data":{"name":"b21"},"mark":"line","encoding":{"x":{"field":"t","type":"quantitative","scale":{"domain":[0,1090]},"axis":{"values":[0,500,1000],"format":"d","title":null}},"y":{"field":"v","type":"quantitative","scale":{"domain":[0,0.4]},"axis":{"values":[0,0.2,0.4],"labelExpr":"datum.value == 0 ? '0' : format(datum.value, '.1f')","title":["LH","Sec","(IU/L/min)"],"titleX":-39,"titleFontSize":8.5}}}},
    {"width":92,"height":30,"data":{"name":"b22"},"mark":"line","encoding":{"x":{"field":"t","type":"quantitative","scale":{"domain":[0,1090]},"axis":{"values":[0,500,1000],"format":"d","title":null}},"y":{"field":"v","type":"quantitative","scale":{"domain":[0,0.2]},"axis":{"values":[0,0.1,0.2],"labelExpr":"datum.value == 0 ? '0' : format(datum.value, '.1f')","title":null}}}},
    {"width":92,"height":30,"data":{"name":"b23"},"mark":"line","encoding":{"x":{"field":"t","type":"quantitative","scale":{"domain":[0,1090]},"axis":{"values":[0,500,1000],"format":"d","title":null}},"y":{"field":"v","type":"quantitative","scale":{"domain":[0,0.2]},"axis":{"values":[0,0.1,0.2],"labelExpr":"datum.value == 0 ? '0' : format(datum.value, '.1f')","title":null}}}},
    {"width":92,"height":30,"data":{"name":"b24"},"mark":"line","encoding":{"x":{"field":"t","type":"quantitative","scale":{"domain":[0,1090]},"axis":{"values":[0,500,1000],"format":"d","title":null}},"y":{"field":"v","type":"quantitative","scale":{"domain":[0,0.1]},"axis":{"values":[0,0.05,0.1],"labelExpr":"datum.value == 0 ? '0' : format(datum.value, '.2f')","title":null}}}}
   ]},
   {"bounds":"flush","spacing":29,"hconcat":[
    {"width":92,"height":30,"data":{"name":"b31"},"mark":"line","encoding":{"x":{"field":"t","type":"quantitative","scale":{"domain":[0,1090]},"axis":{"values":[0,500,1000],"format":"d","title":null}},"y":{"field":"v","type":"quantitative","scale":{"domain":[0,10]},"axis":{"values":[0,5,10],"title":["Virtual","GnRH","(unitless)"],"titleX":-39,"titleFontSize":8.5}}}},
    {"width":92,"height":30,"data":{"name":"b32"},"mark":"line","encoding":{"x":{"field":"t","type":"quantitative","scale":{"domain":[0,1090]},"axis":{"values":[0,500,1000],"format":"d","title":null}},"y":{"field":"v","type":"quantitative","scale":{"domain":[0,10]},"axis":{"values":[0,5,10],"title":null}}}},
    {"width":92,"height":30,"data":{"name":"b33"},"mark":"line","encoding":{"x":{"field":"t","type":"quantitative","scale":{"domain":[0,1090]},"axis":{"values":[0,500,1000],"format":"d","title":null}},"y":{"field":"v","type":"quantitative","scale":{"domain":[0,10]},"axis":{"values":[0,5,10],"title":null}}}},
    {"width":92,"height":30,"data":{"name":"b34"},"mark":"line","encoding":{"x":{"field":"t","type":"quantitative","scale":{"domain":[0,1090]},"axis":{"values":[0,500,1000],"format":"d","title":null}},"y":{"field":"v","type":"quantitative","scale":{"domain":[0,10]},"axis":{"values":[0,5,10],"title":null}}}}
   ]},
   {"bounds":"flush","spacing":29,"hconcat":[
    {"width":92,"height":28,"data":{"name":"b41"},"mark":"line","encoding":{"x":{"field":"t","type":"quantitative","scale":{"domain":[0,1090]},"axis":{"values":[0,500,1000],"format":"d","title":"Time (min)"}},"y":{"field":"v","type":"quantitative","scale":{"domain":[0,20]},"axis":{"values":[0,10,20],"title":["Free Te","Conc","(ng/dL)"],"titleX":-39,"titleFontSize":8.5}}}},
    {"width":92,"height":28,"data":{"name":"b42"},"mark":"line","encoding":{"x":{"field":"t","type":"quantitative","scale":{"domain":[0,1090]},"axis":{"values":[0,500,1000],"format":"d","title":"Time (min)"}},"y":{"field":"v","type":"quantitative","scale":{"domain":[0,20]},"axis":{"values":[0,10,20],"title":null}}}},
    {"width":92,"height":28,"data":{"name":"b43"},"mark":"line","encoding":{"x":{"field":"t","type":"quantitative","scale":{"domain":[0,1090]},"axis":{"values":[0,500,1000],"format":"d","title":"Time (min)"}},"y":{"field":"v","type":"quantitative","scale":{"domain":[0,20]},"axis":{"values":[0,10,20],"title":null}}}},
    {"width":92,"height":28,"data":{"name":"b44"},"mark":"line","encoding":{"x":{"field":"t","type":"quantitative","scale":{"domain":[0,1090]},"axis":{"values":[0,500,1000],"format":"d","title":"Time (min)"}},"y":{"field":"v","type":"quantitative","scale":{"domain":[0,20]},"axis":{"values":[0,10,20],"title":null}}}}
   ]}
  ]},
  {"spacing":4,"title":{"text":["LH Secretory","Response","(IU/L/min)"],"orient":"left","anchor":"middle","fontSize":8.5,"offset":4},"vconcat":[
   {"bounds":"flush","spacing":29,"hconcat":[
    {"width":92,"height":30,"data":{"name":"b51"},"transform":[{"fold":["u","l"],"as":["k","y"]}],"mark":{"type":"line","interpolate":"monotone"},"encoding":{"x":{"field":"x","type":"quantitative","scale":{"domain":[0,8.5]},"axis":{"values":[0,2.5,5,7.5],"labelExpr":"datum.value == 0 ? '0' : format(datum.value, '.1f')","title":null}},"y":{"field":"y","type":"quantitative","scale":{"domain":[0,1.5]},"axis":{"values":[0,0.5,1,1.5],"labelExpr":"datum.value == 0 ? '0' : format(datum.value, '.1f')","title":null}},"detail":{"field":"k"}}},
    {"width":92,"height":30,"data":{"name":"b52"},"transform":[{"fold":["u","l"],"as":["k","y"]}],"mark":{"type":"line","interpolate":"monotone"},"encoding":{"x":{"field":"x","type":"quantitative","scale":{"domain":[0,8.5]},"axis":{"values":[0,2.5,5,7.5],"labelExpr":"datum.value == 0 ? '0' : format(datum.value, '.1f')","title":null}},"y":{"field":"y","type":"quantitative","scale":{"domain":[0,1.5]},"axis":{"values":[0,0.5,1,1.5],"labelExpr":"datum.value == 0 ? '0' : format(datum.value, '.1f')","title":null}},"detail":{"field":"k"}}},
    {"width":92,"height":30,"data":{"name":"b53"},"transform":[{"fold":["u","l"],"as":["k","y"]}],"mark":{"type":"line","interpolate":"monotone"},"encoding":{"x":{"field":"x","type":"quantitative","scale":{"domain":[0,8.5]},"axis":{"values":[0,2.5,5,7.5],"labelExpr":"datum.value == 0 ? '0' : format(datum.value, '.1f')","title":null}},"y":{"field":"y","type":"quantitative","scale":{"domain":[0,1.5]},"axis":{"values":[0,0.5,1,1.5],"labelExpr":"datum.value == 0 ? '0' : format(datum.value, '.1f')","title":null}},"detail":{"field":"k"}}},
    {"width":92,"height":30,"data":{"name":"b54"},"transform":[{"fold":["u","l"],"as":["k","y"]}],"mark":{"type":"line","interpolate":"monotone"},"encoding":{"x":{"field":"x","type":"quantitative","scale":{"domain":[0,8.5]},"axis":{"values":[0,2.5,5,7.5],"labelExpr":"datum.value == 0 ? '0' : format(datum.value, '.1f')","title":null}},"y":{"field":"y","type":"quantitative","scale":{"domain":[0,1.5]},"axis":{"values":[0,0.5,1,1.5],"labelExpr":"datum.value == 0 ? '0' : format(datum.value, '.1f')","title":null}},"detail":{"field":"k"}}}
   ]},
   {"bounds":"flush","spacing":29,"hconcat":[
    {"width":92,"height":27,"layer":[{"data":{"name":"b61c"},"mark":{"type":"line","interpolate":"monotone"}},{"data":{"name":"b61p"},"mark":{"type":"point","shape":"M-1,0L1,0M0,-1L0,1M-0.7,-0.7L0.7,0.7M-0.7,0.7L0.7,-0.7","size":22,"stroke":"black","strokeWidth":0.9,"filled":false,"opacity":1}}],"encoding":{"x":{"field":"x","type":"quantitative","scale":{"domain":[0,8.5]},"axis":{"values":[0,2.5,5,7.5],"labelExpr":"datum.value == 0 ? '0' : format(datum.value, '.1f')","title":"GnRH"}},"y":{"field":"y","type":"quantitative","scale":{"domain":[0,1]},"axis":{"values":[0,0.5,1],"labelExpr":"datum.value == 0 ? '0' : format(datum.value, '.1f')","title":null}}}},
    {"width":92,"height":27,"layer":[{"data":{"name":"b62c"},"mark":{"type":"line","interpolate":"monotone"}},{"data":{"name":"b62p"},"mark":{"type":"point","shape":"M-1,0L1,0M0,-1L0,1M-0.7,-0.7L0.7,0.7M-0.7,0.7L0.7,-0.7","size":22,"stroke":"black","strokeWidth":0.9,"filled":false,"opacity":1}}],"encoding":{"x":{"field":"x","type":"quantitative","scale":{"domain":[0,8.5]},"axis":{"values":[0,2.5,5,7.5],"labelExpr":"datum.value == 0 ? '0' : format(datum.value, '.1f')","title":"GnRH"}},"y":{"field":"y","type":"quantitative","scale":{"domain":[0,1]},"axis":{"values":[0,0.5,1],"labelExpr":"datum.value == 0 ? '0' : format(datum.value, '.1f')","title":null}}}},
    {"width":92,"height":27,"layer":[{"data":{"name":"b63c"},"mark":{"type":"line","interpolate":"monotone"}},{"data":{"name":"b63p"},"mark":{"type":"point","shape":"M-1,0L1,0M0,-1L0,1M-0.7,-0.7L0.7,0.7M-0.7,0.7L0.7,-0.7","size":22,"stroke":"black","strokeWidth":0.9,"filled":false,"opacity":1}}],"encoding":{"x":{"field":"x","type":"quantitative","scale":{"domain":[0,8.5]},"axis":{"values":[0,2.5,5,7.5],"labelExpr":"datum.value == 0 ? '0' : format(datum.value, '.1f')","title":"GnRH"}},"y":{"field":"y","type":"quantitative","scale":{"domain":[0,1]},"axis":{"values":[0,0.5,1],"labelExpr":"datum.value == 0 ? '0' : format(datum.value, '.1f')","title":null}}}},
    {"width":92,"height":27,"layer":[{"data":{"name":"b64c"},"mark":{"type":"line","interpolate":"monotone"}},{"data":{"name":"b64p"},"mark":{"type":"point","shape":"M-1,0L1,0M0,-1L0,1M-0.7,-0.7L0.7,0.7M-0.7,0.7L0.7,-0.7","size":22,"stroke":"black","strokeWidth":0.9,"filled":false,"opacity":1}}],"encoding":{"x":{"field":"x","type":"quantitative","scale":{"domain":[0,8.5]},"axis":{"values":[0,2.5,5,7.5],"labelExpr":"datum.value == 0 ? '0' : format(datum.value, '.1f')","title":"GnRH"}},"y":{"field":"y","type":"quantitative","scale":{"domain":[0,1]},"axis":{"values":[0,0.5,1],"labelExpr":"datum.value == 0 ? '0' : format(datum.value, '.1f')","title":null}}}}
   ]}
  ]}
 ]}
]
}
